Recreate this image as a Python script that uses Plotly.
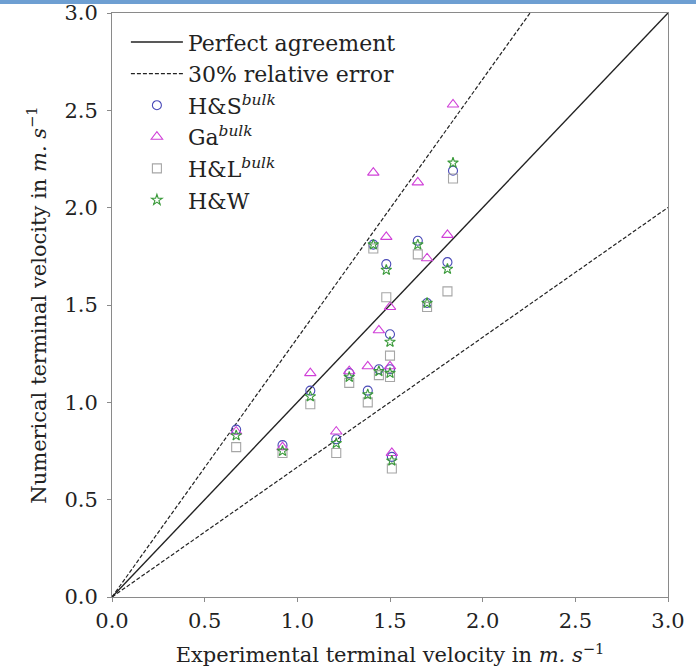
import plotly.graph_objects as go

# Experimental terminal velocity (x) for each case
exp_v = [0.67, 0.92, 1.07, 1.21, 1.28, 1.38, 1.41, 1.44, 1.48, 1.50, 1.50, 1.51, 1.65, 1.70, 1.81, 1.84]
# Numerical terminal velocity for each model
hs_bulk = [0.86, 0.78, 1.06, 0.81, 1.15, 1.06, 1.81, 1.17, 1.71, 1.35, 1.17, 0.72, 1.83, 1.51, 1.72, 2.19]
ga_bulk = [0.85, 0.77, 1.15, 0.85, 1.16, 1.185, 2.18, 1.37, 1.85, 1.49, 1.185, 0.74, 2.13, 1.74, 1.86, 2.53]
hl_bulk = [0.77, 0.74, 0.99, 0.74, 1.10, 1.00, 1.79, 1.14, 1.54, 1.24, 1.13, 0.66, 1.76, 1.49, 1.57, 2.15]
hw = [0.83, 0.75, 1.03, 0.79, 1.13, 1.04, 1.81, 1.16, 1.68, 1.31, 1.15, 0.70, 1.81, 1.51, 1.685, 2.23]

line_x = [0.0, 3.0]
upper_slope = 1.33
lower_slope = 0.667

FONT = "DejaVu Serif"
W, H = 696, 669
ML, MR, MT, MB = 112, 28, 13, 72
pw, ph = W - ML - MR, H - MT - MB

fig = go.Figure()
fig.add_trace(go.Scatter(x=line_x, y=line_x, mode="lines", name="Perfect agreement",
                         line=dict(color="#222222", width=1.4)))
fig.add_trace(go.Scatter(x=line_x, y=[v * upper_slope for v in line_x], mode="lines",
                         name="30% relative error",
                         line=dict(color="#222222", width=1.2, dash="4px,2px")))
fig.add_trace(go.Scatter(x=line_x, y=[v * lower_slope for v in line_x], mode="lines",
                         showlegend=False,
                         line=dict(color="#222222", width=1.2, dash="4px,2px")))

series = [
    ("H&amp;S<sup><i>bulk</i></sup>", hs_bulk, "circle-open", "#4a4ab8", 9),
    ("Ga<sup><i>bulk</i></sup>", ga_bulk, "triangle-up-open", "#d040d8", 10),
    ("H&amp;L<sup><i>bulk</i></sup>", hl_bulk, "square-open", "#a6a6a6", 9),
    ("H&amp;W", hw, "star-open", "#3a9a3a", 8),
]
for name, ys, sym, col, sz in series:
    fig.add_trace(go.Scatter(x=exp_v, y=ys, mode="markers", name=name,
                             marker=dict(symbol=sym, size=sz, color=col,
                                         line=dict(color=col, width=1.1))))

axis_common = dict(range=[0, 3], tickvals=[0, 0.5, 1, 1.5, 2, 2.5, 3],
                   ticktext=["0.0", "0.5", "1.0", "1.5", "2.0", "2.5", "3.0"],
                   showgrid=False, zeroline=False, showline=True, linecolor="#8a8a8a",
                   linewidth=1, mirror=True, ticks="outside", ticklen=4, tickcolor="#8a8a8a",
                   automargin=False,
                   tickfont=dict(family=FONT, size=21, color="#222222"))

fig.update_layout(
    width=W, height=H, margin=dict(l=ML, r=MR, t=MT, b=MB, autoexpand=False),
    paper_bgcolor="white", plot_bgcolor="white",
    font=dict(family=FONT, color="#222222"),
    xaxis=dict(**axis_common, ticklabelstandoff=1,
               title=dict(text="Experimental terminal velocity in <i>m. s</i><sup>−1</sup>",
                          font=dict(family=FONT, size=21), standoff=15)),
    yaxis=dict(**axis_common, ticklabelstandoff=5,
               title=dict(text="Numerical terminal velocity in <i>m. s</i><sup>−1</sup>",
                          font=dict(family=FONT, size=21), standoff=12)),
    legend=dict(x=0.025, y=0.986, xanchor="left", yanchor="top",
                bgcolor="rgba(255,255,255,0)", borderwidth=0,
                font=dict(family=FONT, size=22, color="#222222"),
                itemwidth=52, tracegroupgap=0),
    showlegend=True,
    shapes=[dict(type="rect", xref="paper", yref="paper",
                 x0=-ML / pw, x1=1 + MR / pw,
                 y0=1 + (MT - 4) / ph, y1=1 + MT / ph,
                 fillcolor="#6e9fd2", line=dict(width=0), layer="above")],
)

fig.write_html("out.html")
